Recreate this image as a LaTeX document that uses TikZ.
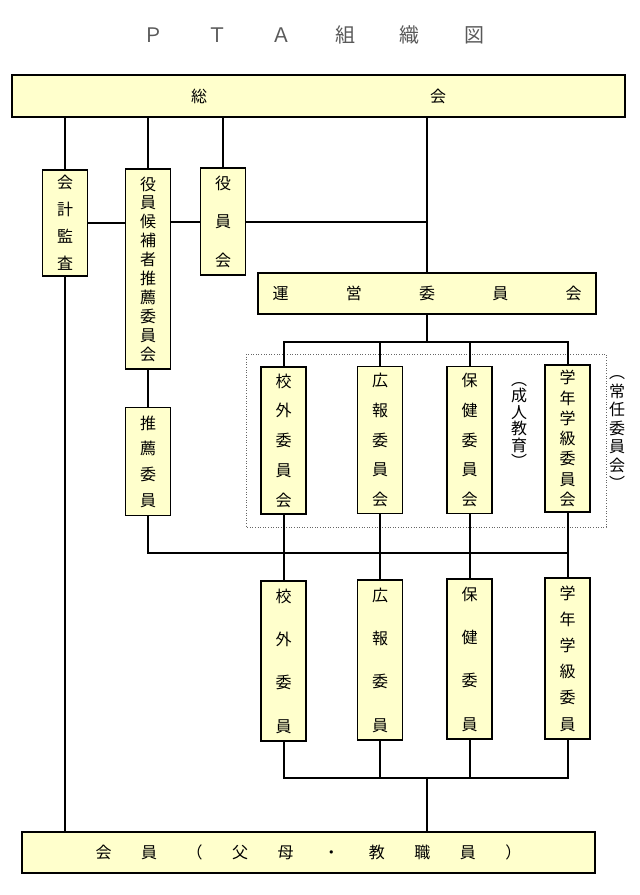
\documentclass[tikz,border=0pt]{standalone}
\usepackage{fontspec}
\setmainfont{Noto Sans CJK JP}
\definecolor{paleyellow}{RGB}{255,255,204}

\begin{document}
\begin{tikzpicture}[x=1pt, y=-1pt, every node/.style={inner sep=0pt, font=\fontsize{16}{16}\selectfont},
    bar/.style={rectangle, draw, line width=1.3pt, fill=paleyellow},
    post/.style={rectangle, draw, line width=1.3pt, fill=paleyellow, align=center, minimum width=45pt},
    aside/.style={align=center, font=\fontsize{16}{18.5}\selectfont},
    link/.style={line width=2pt}]
      \useasboundingbox (0,0) rectangle (640,895);

      \node (title) at (313.5,35) {\color{black!65}\fontsize{20}{20}\selectfont\makebox[341pt]{Ｐ\hfill Ｔ\hfill Ａ\hfill 組\hfill 織\hfill 図}};
      \node[bar, minimum width=613pt, minimum height=42pt] (sokai) at (318.5,96) {\makebox[255pt]{総\hfill 会}};

      \node[post, minimum height=106pt, font=\fontsize{16}{27}\selectfont] (kaikei) at (65,223) {会\\計\\監\\査};
      \node[post, minimum height=200pt, font=\fontsize{16}{18.9}\selectfont] (kouho) at (148,269) {役\\員\\候\\補\\者\\推\\薦\\委\\員\\会};
      \node[post, minimum height=107pt, font=\fontsize{16}{38.5}\selectfont] (yakuinkai) at (223,221.5) {役\\員\\会};
      \node[bar, minimum width=338pt, minimum height=41pt] (unei) at (427,293.5) {\makebox[309pt]{運\hfill 営\hfill 委\hfill 員\hfill 会}};
      \node[post, minimum height=108pt, font=\fontsize{16}{25.7}\selectfont] (suisen) at (148,461.5) {推\\薦\\委\\員};

      \draw[dotted, black!60, line width=0.6pt] (246,354) rectangle (606,527);
      \node[post, minimum height=147pt, font=\fontsize{16}{29.75}\selectfont] (kougai) at (283.5,440.5) {校\\外\\委\\員\\会};
      \node[post, minimum height=147pt, font=\fontsize{16}{29.75}\selectfont] (kouhou) at (380,440) {広\\報\\委\\員\\会};
      \node[post, minimum height=147pt, font=\fontsize{16}{29.75}\selectfont] (hoken) at (469.5,440) {保\\健\\委\\員\\会};
      \node[post, minimum height=147pt, font=\fontsize{16}{20.3}\selectfont] (gakunen) at (567.5,438.5) {学\\年\\学\\級\\委\\員\\会};
      \node[aside, font=\fontsize{16}{16.5}\selectfont] (seijin) at (519,425) {︵\\成\\人\\教\\育\\︶};
      \node[aside] (jounin) at (617,433) {︵\\常\\任\\委\\員\\会\\︶};

      \node[post, minimum height=160pt, font=\fontsize{16}{43.3}\selectfont] (kougai2) at (283.5,661) {校\\外\\委\\員};
      \node[post, minimum height=160pt, font=\fontsize{16}{43.3}\selectfont] (kouhou2) at (380,660) {広\\報\\委\\員};
      \node[post, minimum height=160pt, font=\fontsize{16}{43.3}\selectfont] (hoken2) at (469.5,659) {保\\健\\委\\員};
      \node[post, minimum height=161pt, font=\fontsize{16}{26.2}\selectfont] (gakunen2) at (567.5,658.5) {学\\年\\学\\級\\委\\員};

      \node[bar, minimum width=573pt, minimum height=41pt] (kaiin) at (308.5,852.5) {\makebox[426pt]{会\hfill 員\hfill （\hfill 父\hfill 母\hfill ・\hfill 教\hfill 職\hfill 員\hfill ）}};

      \coordinate (upper) at (0,342);
      \coordinate (mid) at (0,553);
      \coordinate (lower) at (0,778);

      \draw[link] (sokai.south -| kaikei.north) -- (kaikei.north);
      \draw[link] (sokai.south -| kouho.north) -- (kouho.north);
      \draw[link] (sokai.south -| yakuinkai.north) -- (yakuinkai.north);
      \draw[link] (sokai.south -| unei.north) -- (unei.north);
      \draw[link] (kaikei.east) -- (kaikei.east -| kouho.west);
      \draw[link] (kouho.east |- yakuinkai.west) -- (yakuinkai.west);
      \draw[link] (yakuinkai.east) -- (yakuinkai.east -| unei.north);
      \draw[link] (kouho.south) -- (suisen.north);
      \draw[link] (kaikei.south) -- (kaikei.south |- kaiin.north);

      \draw[link] (unei.south) -- (unei.south |- upper);
      \draw[link] (kougai.north) -- (kougai.north |- upper) -- (gakunen.north |- upper) -- (gakunen.north);
      \draw[link] (kouhou.north) -- (kouhou.north |- upper);
      \draw[link] (hoken.north) -- (hoken.north |- upper);

      \draw[link] (suisen.south) -- (suisen.south |- mid) -- (gakunen.south |- mid);
      \foreach \a/\b in {kougai/kougai2, kouhou/kouhou2, hoken/hoken2, gakunen/gakunen2}
        \draw[link] (\a.south) -- (\b.north);

      \draw[link] (kougai2.south) -- (kougai2.south |- lower) -- (gakunen2.south |- lower) -- (gakunen2.south);
      \draw[link] (kouhou2.south) -- (kouhou2.south |- lower);
      \draw[link] (hoken2.south) -- (hoken2.south |- lower);
      \draw[link] (unei.south |- lower) -- (unei.south |- kaiin.north);
    \end{tikzpicture}
\end{document}
